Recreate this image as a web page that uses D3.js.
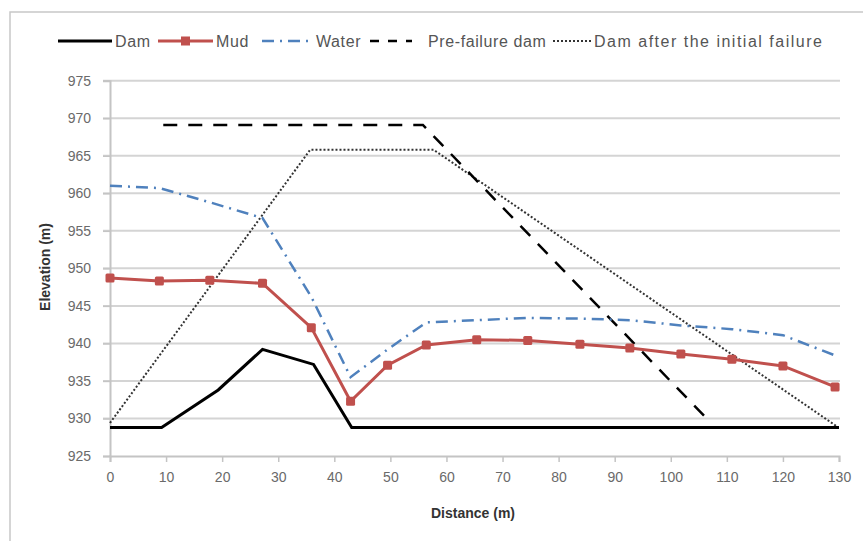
<!DOCTYPE html>
<html>
<head>
<meta charset="utf-8">
<script src="https://cdn.jsdelivr.net/npm/d3@7"></script>
<style>
	body { margin: 0; background: #fff; }
	text { font-family: "Liberation Sans", Arial, sans-serif; }
</style>
</head>
<body>
<div id="chart"></div>
<script>
'use strict'
var width = 863;
var height = 541;

// series data (distance in m, elevation in m)
var damX = [0, 9.2, 19.3, 27.2, 36.3, 43.1, 130];
var damY = [928.8, 928.8, 933.8, 939.2, 937.2, 928.8, 928.8];

var mudX = [0, 8.8, 17.8, 27.2, 35.9, 42.9, 49.5, 56.4, 65.4, 74.5, 83.8, 92.7, 101.8, 110.9, 120, 129.3];
var mudY = [948.7, 948.3, 948.4, 948.0, 942.1, 932.3, 937.1, 939.8, 940.5, 940.4, 939.9, 939.4, 938.6, 937.9, 937.0, 934.2];

var waterX = [0, 8.8, 17.8, 27.2, 35.9, 42.9, 49.5, 56.4, 65.4, 74.5, 83.8, 92.7, 101.8, 110.9, 120, 129.3];
var waterY = [961.0, 960.7, 958.8, 956.7, 946.2, 935.5, 939.2, 942.8, 943.1, 943.4, 943.3, 943.1, 942.4, 941.9, 941.1, 938.4];

var preX = [9.5, 55.8, 106.4];
var preY = [969.1, 969.1, 930.0];

var afterX = [0, 35.7, 57.7, 129.5];
var afterY = [929.4, 965.8, 965.8, 929.0];

var xTicks = [0, 10, 20, 30, 40, 50, 60, 70, 80, 90, 100, 110, 120, 130];
var yTicks = [925, 930, 935, 940, 945, 950, 955, 960, 965, 970, 975];

var seriesNames = ['Dam', 'Mud', 'Water', 'Pre-failure dam', 'Dam after the initial failure'];

function zip(xs, ys){
	return xs.map(function(x, i){ return [x, ys[i]]; });
}

function generateChart(){
	var svg = d3.select("#chart")
		.append('svg')
		.attr("width", width)
		.attr("height", height);

	// chart frame
	svg.append('rect')
		.attr('x', 10).attr('y', 12)
		.attr('width', 900).attr('height', 600)
		.attr('fill', 'none')
		.style('stroke', '#c8c8c8')
		.style('stroke-width', '1.5px');

	var x = d3.scaleLinear().domain([0, 130]).range([110, 839]);
	var y = d3.scaleLinear().domain([925, 975]).range([456, 80.7]);

	// gridlines
	svg.append("g")
		.selectAll("line")
		.data(yTicks.slice(1))
		.enter()
		.append("line")
			.attr("x1", x(0) - 7)
			.attr("x2", x(130) + 1)
			.attr("y1", function(d){ return y(d); })
			.attr("y2", function(d){ return y(d); })
			.style('stroke', '#d4d4d4')
			.style('stroke-width', '2px');

	// y axis
	var yAxis = svg.append("g")
		.attr("transform", "translate(" + x(0) + ",0)")
		.call(d3.axisLeft(y).tickValues(yTicks).tickSize(7).tickPadding(12));
	// x axis
	var xAxis = svg.append("g")
		.attr("transform", "translate(0," + y(925) + ")")
		.call(d3.axisBottom(x).tickValues(xTicks).tickSize(6).tickPadding(10));

	[xAxis, yAxis].forEach(function(ax){
		ax.select('.domain').style('stroke', '#c4c4c4').style('stroke-width', '2px');
		ax.selectAll('.tick line').style('stroke', '#c4c4c4').style('stroke-width', '1.5px');
		ax.selectAll('.tick text')
			.style('font-size', '14px')
			.style('fill', '#6a6a6a')
			.style('font-family', '"Liberation Sans", Arial, sans-serif');
	});

	// axis titles
	svg.append('text')
		.attr('x', 473).attr('y', 518)
		.attr('text-anchor', 'middle')
		.style('font-size', '14px')
		.style('font-weight', 'bold')
		.style('fill', '#333')
		.text('Distance (m)');

	svg.append('text')
		.attr('transform', 'translate(50,267) rotate(-90)')
		.attr('text-anchor', 'middle')
		.style('font-size', '14px')
		.style('font-weight', 'bold')
		.style('fill', '#333')
		.text('Elevation (m)');

	var line = d3.line()
		.x(function(d){ return x(d[0]); })
		.y(function(d){ return y(d[1]); });

	var styles = [
		{ color: '#000000', w: 3, dash: null },
		{ color: '#c0504d', w: 3, dash: null },
		{ color: '#4f81bd', w: 2.5, dash: '12,6,2,6' },
		{ color: '#000000', w: 2.5, dash: '14,11' },
		{ color: '#333333', w: 2, dash: '2,2' }
	];

	var data = [zip(damX, damY), zip(mudX, mudY), zip(waterX, waterY), zip(preX, preY), zip(afterX, afterY)];
	var order = [4, 3, 0, 2, 1];

	order.forEach(function(i){
		svg.append('path')
			.datum(data[i])
			.attr('d', line)
			.attr('fill', 'none')
			.style('stroke', styles[i].color)
			.style('stroke-width', styles[i].w + 'px')
			.style('stroke-dasharray', styles[i].dash);
	});

	// mud markers
	svg.append('g')
		.selectAll('rect')
		.data(data[1])
		.enter()
		.append('rect')
			.attr('x', function(d){ return x(d[0]) - 4.5; })
			.attr('y', function(d){ return y(d[1]) - 4.5; })
			.attr('width', 9).attr('height', 9)
			.attr('rx', 1.5)
			.attr('fill', '#c0504d');

	// legend
	var legendX = [58, 158, 262, 370, 553];
	var legendLen = [54, 55, 51, 42, 38];
	var spacing = [0.6, 0.6, 0.6, 0.6, 1.5];
	var ly = 41;
	var legend = svg.append('g');
	seriesNames.forEach(function(name, i){
		var x0 = legendX[i];
		legend.append('line')
			.attr('x1', x0).attr('x2', x0 + legendLen[i])
			.attr('y1', ly).attr('y2', ly)
			.style('stroke', styles[i].color)
			.style('stroke-width', styles[i].w + 'px')
			.style('stroke-dasharray', i == 3 ? '9,9' : styles[i].dash);
		if(i == 1){
			legend.append('rect')
				.attr('x', x0 + legendLen[i] / 2 - 4.5)
				.attr('y', ly - 4.5)
				.attr('width', 9).attr('height', 9)
				.attr('fill', '#c0504d');
		}
		legend.append('text')
			.attr('x', i == 3 ? x0 + 58 : x0 + legendLen[i] + 3)
			.attr('y', ly + 5.5)
			.style('font-size', '16px')
			.style('letter-spacing', spacing[i] + 'px')
			.style('fill', '#555')
			.text(name);
	});
}

generateChart();
</script>
</body>
</html>
